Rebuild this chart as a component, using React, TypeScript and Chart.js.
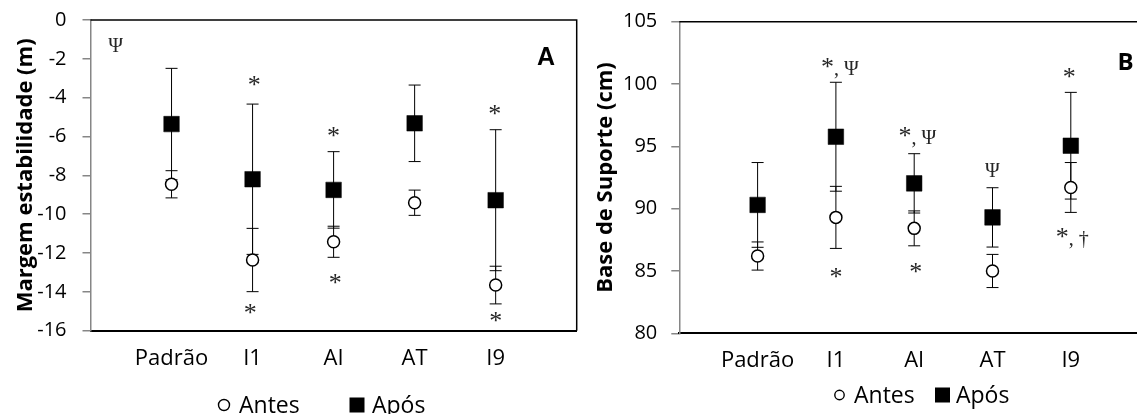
import React, { useEffect, useRef } from 'react';
import { Chart, registerables } from 'chart.js';

Chart.register(...registerables);

const categories = ['Padrão', 'I1', 'AI', 'AT', 'I9'];
const seriesNames = ['Antes', 'Após'];

// Panel A – Margem estabilidade (m)
const marginAntes = [-8.46, -12.36, -11.42, -9.41, -13.65];
const marginAntesErr = [0.7, 1.63, 0.8, 0.65, 0.97];
const marginApos = [-5.36, -8.2, -8.75, -5.32, -9.28];
const marginAposErr = [2.87, 3.87, 1.97, 1.97, 3.63];
const marginAxis = { min: -16, max: 0, step: 2, title: 'Margem estabilidade (m)' };

// Panel B – Base de Suporte (cm)
const baseAntes = [86.2, 89.3, 88.42, 85.0, 91.7];
const baseAntesErr = [1.13, 2.49, 1.4, 1.33, 2.0];
const baseApos = [90.3, 95.77, 92.03, 89.3, 95.05];
const baseAposErr = [3.4, 4.37, 2.38, 2.38, 4.28];
const baseAxis = { min: 80, max: 105, step: 5, title: 'Base de Suporte (cm)' };

// Significance marks (x in category units, y in data units)
const marginNotes = [
  { x: 0.31, y: -1.29, text: 'Ψ' },
  { x: 2.02, y: -3.16, text: '*' },
  { x: 1.97, y: -14.89, text: '*' },
  { x: 3.0, y: -5.76, text: '*' },
  { x: 3.02, y: -13.35, text: '*' },
  { x: 4.99, y: -4.64, text: '*' },
  { x: 5.0, y: -15.32, text: '*' },
];
const baseNotes = [
  { x: 2.05, y: 101.22, text: '*, Ψ' },
  { x: 2.0, y: 84.87, text: '*' },
  { x: 3.04, y: 95.73, text: '*, Ψ' },
  { x: 3.02, y: 85.27, text: '*' },
  { x: 4.0, y: 93.12, text: 'Ψ' },
  { x: 4.98, y: 100.92, text: '*' },
  { x: 5.02, y: 87.62, text: '*, †' },
];
const marginPanelLabel = { x: 5.62, y: -1.85, text: 'A' };
const basePanelLabel = { x: 5.7, y: 101.82, text: 'B' };

const SANS = '"Open Sans", "Noto Sans", sans-serif';
const SERIF = '"Liberation Serif", "DejaVu Serif", serif';

const errorBarPlugin = {
  id: 'errorBars',
  beforeDatasetsDraw(chart: any) {
    const { ctx, scales } = chart;
    const xs = scales.x;
    const ys = scales.y;
    ctx.save();
    ctx.strokeStyle = '#000';
    ctx.lineWidth = 1;
    chart.data.datasets.forEach((ds: any) => {
      const errs: number[] = ds.errors || [];
      ds.data.forEach((p: any, i: number) => {
        const e = errs[i];
        if (e == null) return;
        const px = xs.getPixelForValue(p.x);
        const top = ys.getPixelForValue(p.y + e);
        const bot = ys.getPixelForValue(p.y - e);
        ctx.beginPath();
        ctx.moveTo(px, top);
        ctx.lineTo(px, bot);
        ctx.moveTo(px - 6, top);
        ctx.lineTo(px + 6, top);
        ctx.moveTo(px - 6, bot);
        ctx.lineTo(px + 6, bot);
        ctx.stroke();
      });
    });
    // plot frame (top and right)
    const a = chart.chartArea;
    ctx.strokeStyle = '#000';
    ctx.lineWidth = 1.5;
    ctx.beginPath();
    ctx.moveTo(a.left, a.top);
    ctx.lineTo(a.right, a.top);
    ctx.lineTo(a.right, a.bottom);
    ctx.stroke();
    ctx.restore();
  },
};

const notesPlugin = {
  id: 'notes',
  afterDatasetsDraw(chart: any, _args: any, opts: any) {
    const { ctx, scales } = chart;
    ctx.save();
    ctx.textBaseline = 'alphabetic';
    ctx.textAlign = 'left';
    const drawNote = (text: string, cx: number, cy: number, size: number, color: string) => {
      const parts = Array.from(text).map((ch) => ({
        ch,
        font: `${ch === '*' ? Math.round(size * 1.3) : size}px ${SERIF}`,
      }));
      let total = 0;
      let asc = 0;
      let desc = -1e9;
      const widths: number[] = [];
      parts.forEach((p) => {
        ctx.font = p.font;
        const m = ctx.measureText(p.ch);
        widths.push(m.width);
        total += m.width;
        if (p.ch.trim()) {
          asc = Math.max(asc, m.actualBoundingBoxAscent);
          desc = Math.max(desc, m.actualBoundingBoxDescent);
        }
      });
      if (desc < -1e8) desc = 0;
      const base = cy + (asc - desc) / 2;
      let x = cx - total / 2;
      ctx.fillStyle = color;
      parts.forEach((p, i) => {
        ctx.font = p.font;
        ctx.fillText(p.ch, x, base);
        x += widths[i];
      });
    };
    (opts.notes || []).forEach((n: any) => {
      drawNote(n.text, scales.x.getPixelForValue(n.x), scales.y.getPixelForValue(n.y), opts.noteSize, '#262626');
    });
    if (opts.label) {
      const l = opts.label;
      ctx.font = opts.labelFont;
      ctx.fillStyle = '#000';
      ctx.textAlign = 'center';
      const m = ctx.measureText(l.text);
      const y = scales.y.getPixelForValue(l.y);
      ctx.fillText(l.text, scales.x.getPixelForValue(l.x), y + (m.actualBoundingBoxAscent - m.actualBoundingBoxDescent) / 2);
    }
    ctx.restore();
  },
  afterDraw(chart: any, _args: any, opts: any) {
    const lg = opts.legend;
    if (!lg) return;
    const { ctx } = chart;
    ctx.save();
    ctx.font = `23px ${SANS}`;
    ctx.textAlign = 'left';
    ctx.textBaseline = 'alphabetic';
    const base = lg.y + 8.2;
    ctx.beginPath();
    ctx.arc(lg.circleX, lg.y, lg.circleR, 0, Math.PI * 2);
    ctx.fillStyle = '#fff';
    ctx.fill();
    ctx.strokeStyle = '#000';
    ctx.lineWidth = 1.4;
    ctx.stroke();
    ctx.fillStyle = '#000';
    ctx.fillText(seriesNames[0], lg.text1X, base);
    ctx.fillRect(lg.squareX - 7.5, lg.y - 7.5, 15, 15);
    ctx.fillText(seriesNames[1], lg.text2X, base);
    ctx.restore();
  },
};

const zeroPad = (s: any) => {
  s.paddingTop = 0;
  s.paddingBottom = 0;
  s.paddingLeft = 0;
  s.paddingRight = 0;
};

function buildConfig(cfg: any): any {
  const mk = (vals: number[]) => vals.map((v, i) => ({ x: i + 1, y: v }));
  return {
    type: 'scatter',
    data: {
      datasets: [
        {
          label: seriesNames[0],
          data: mk(cfg.antes),
          errors: cfg.antesErr,
          pointStyle: 'circle',
          pointRadius: 6,
          pointBorderWidth: 1.5,
          pointBackgroundColor: '#fff',
          pointBorderColor: '#000',
          showLine: false,
          order: 2,
        },
        {
          label: seriesNames[1],
          data: mk(cfg.apos),
          errors: cfg.aposErr,
          pointStyle: 'rect',
          pointRadius: 11,
          pointBorderWidth: 0.5,
          pointBackgroundColor: '#000',
          pointBorderColor: '#000',
          showLine: false,
          order: 1,
        },
      ],
    },
    options: {
      responsive: false,
      animation: false,
      events: [],
      layout: {
        autoPadding: false,
        padding: { top: cfg.padTop, right: cfg.padRight, left: 0, bottom: 0 },
      },
      plugins: {
        legend: { display: false },
        tooltip: { enabled: false },
        notes: {
          notes: cfg.notes,
          noteSize: cfg.noteSize,
          label: cfg.label,
          labelFont: cfg.labelFont,
          legend: cfg.legend,
        },
      },
      scales: {
        x: {
          type: 'linear',
          min: 0,
          max: 6,
          afterBuildTicks: (s: any) => {
            s.ticks = [0, 1, 2, 3, 4, 5, 6].map((v) => ({ value: v }));
          },
          afterFit: (s: any) => {
            s.height = cfg.xHeight;
            zeroPad(s);
          },
          ticks: {
            autoSkip: false,
            maxRotation: 0,
            color: '#000',
            padding: cfg.xPad,
            font: { family: SANS, size: 22 },
            callback: (v: number) => categories[v - 1] ?? '',
          },
          grid: { display: false },
          border: { display: true, color: '#000', width: 2 },
        },
        y: {
          type: 'linear',
          min: cfg.axis.min,
          max: cfg.axis.max,
          afterFit: (s: any) => {
            s.width = cfg.yWidth;
            zeroPad(s);
          },
          ticks: {
            stepSize: cfg.axis.step,
            color: '#000',
            padding: cfg.tickPad,
            font: { family: SANS, size: 20 },
          },
          grid: {
            drawOnChartArea: false,
            drawTicks: true,
            tickLength: 8,
            color: '#868686',
            lineWidth: 1.5,
          },
          border: { display: true, color: '#868686', width: 1.5 },
          title: {
            display: true,
            text: cfg.axis.title,
            color: '#000',
            font: { family: SANS, size: 22, weight: 'bold' },
            padding: { top: 13, bottom: 0 },
          },
        },
      },
    },
    plugins: [errorBarPlugin, notesPlugin],
  };
}

export default function App() {
  const leftRef = useRef<HTMLCanvasElement | null>(null);
  const rightRef = useRef<HTMLCanvasElement | null>(null);

  useEffect(() => {
    const left = new Chart(
      leftRef.current as HTMLCanvasElement,
      buildConfig({
        antes: marginAntes,
        antesErr: marginAntesErr,
        apos: marginApos,
        aposErr: marginAposErr,
        axis: marginAxis,
        notes: marginNotes,
        noteSize: 20,
        label: marginPanelLabel,
        labelFont: `bold 25px "Liberation Sans", Arial, sans-serif`,
        padTop: 20,
        padRight: 3.3,
        yWidth: 90.5,
        xHeight: 83.3,
        tickPad: 16,
        xPad: 7,
        legend: { y: 405, circleX: 224, circleR: 5.5, text1X: 239, squareX: 357, text2X: 372 },
      })
    );
    const right = new Chart(
      rightRef.current as HTMLCanvasElement,
      buildConfig({
        antes: baseAntes,
        antesErr: baseAntesErr,
        apos: baseApos,
        aposErr: baseAposErr,
        axis: baseAxis,
        notes: baseNotes,
        noteSize: 20,
        label: basePanelLabel,
        labelFont: `bold 24px ${SANS}`,
        padTop: 21.7,
        padRight: 10.9,
        yWidth: 99.3,
        xHeight: 80.7,
        tickPad: 14,
        xPad: 6,
        legend: { y: 395, circleX: 259.5, circleR: 4.7, text1X: 274, squareX: 362.5, text2X: 376 },
      })
    );
    return () => {
      left.destroy();
      right.destroy();
    };
  }, []);

  return (
    <div
      style={{
        position: 'fixed',
        left: 0,
        top: 0,
        width: 1137,
        height: 414,
        overflow: 'hidden',
        background: '#fff',
      }}
    >
      <canvas
        ref={leftRef}
        width={580}
        height={414}
        style={{ position: 'absolute', left: 0, top: 0, width: 580, height: 414 }}
      />
      <canvas
        ref={rightRef}
        width={580}
        height={414}
        style={{ position: 'absolute', left: 580, top: 0, width: 580, height: 414 }}
      />
    </div>
  );
}
